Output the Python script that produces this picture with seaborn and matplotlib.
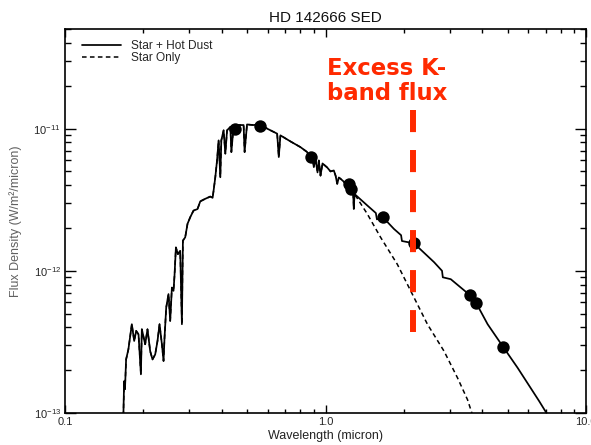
import numpy as np
import pandas as pd
import matplotlib
matplotlib.use("Agg")
import matplotlib.pyplot as plt
from matplotlib.ticker import FixedLocator, FixedFormatter, LogLocator, NullFormatter
import seaborn as sns

# ---- spectrum shared by both models (UV through J band), micron / W m^-2 micron^-1
common_wave = [0.1675, 0.1686, 0.1699, 0.1716, 0.1751, 0.1805, 0.1843, 0.1876, 0.1915,
               0.1956, 0.1972, 0.2031, 0.2073, 0.2123, 0.2167, 0.2219, 0.2265, 0.2306,
               0.2355, 0.2389, 0.2410, 0.2446, 0.2496, 0.2534, 0.2572, 0.2609, 0.2632,
               0.2665, 0.2712, 0.2768, 0.2810, 0.2835, 0.2893, 0.2953, 0.3024, 0.3113,
               0.3226, 0.3305, 0.3455, 0.3612, 0.3686, 0.3719, 0.3775, 0.3833, 0.3887,
               0.3946, 0.3981, 0.4063, 0.4125, 0.4188, 0.4312, 0.4351, 0.4440, 0.4708,
               0.4848, 0.4891, 0.4996, 0.5299, 0.5623, 0.5970, 0.6522, 0.6616, 0.6713,
               0.7335, 0.8015, 0.8504, 0.8757, 0.8889, 0.9017, 0.9153, 0.9316, 0.9424,
               0.9567, 0.9738, 1.015, 1.045, 1.076, 1.093, 1.109, 1.125, 1.142, 1.173,
               1.212, 1.248, 1.276, 1.284, 1.292]
common_flux = [9.5e-14, 1.67e-13, 1.47e-13, 2.38e-13, 2.80e-13, 4.21e-13, 3.21e-13, 3.78e-13,
               3.57e-13, 1.87e-13, 3.88e-13, 3.04e-13, 3.88e-13, 2.72e-13, 2.38e-13, 2.58e-13,
               3.21e-13, 4.21e-13, 3.04e-13, 2.32e-13, 3.38e-13, 5.51e-13, 6.86e-13, 4.44e-13,
               7.62e-13, 7.23e-13, 9.22e-13, 1.46e-12, 1.31e-12, 1.38e-12, 4.21e-13, 1.63e-12,
               1.72e-12, 2.14e-12, 2.38e-12, 2.65e-12, 2.72e-12, 3.08e-12, 3.21e-12, 3.33e-12,
               3.26e-12, 3.67e-12, 4.55e-12, 5.97e-12, 8.27e-12, 4.55e-12, 8.27e-12, 9.73e-12,
               6.67e-12, 9.73e-12, 1.03e-11, 6.84e-12, 1.06e-11, 1.06e-11, 1.06e-11, 6.84e-12,
               1.07e-11, 1.06e-11, 1.08e-11, 1.00e-11, 9.22e-12, 6.31e-12, 8.97e-12, 8.13e-12,
               7.41e-12, 6.84e-12, 5.97e-12, 6.48e-12, 5.36e-12, 6.17e-12, 4.92e-12, 5.97e-12,
               4.67e-12, 5.69e-12, 5.33e-12, 5.00e-12, 5.08e-12, 4.67e-12, 4.09e-12, 4.53e-12,
               4.44e-12, 4.25e-12, 3.98e-12, 3.79e-12, 3.61e-12, 2.72e-12, 3.47e-12]

# ---- star + hot dust beyond J band
dust_wave = [1.447, 1.560, 1.575, 1.661, 1.831, 1.95, 1.965, 2.186, 2.610, 2.80, 2.82,
             3.025, 3.58, 3.78, 4.19, 4.81, 5.46, 6.61, 7.30]
dust_flux = [2.88e-12, 2.55e-12, 2.30e-12, 2.38e-12, 1.97e-12, 1.78e-12, 1.62e-12,
             1.56e-12, 1.15e-12, 1.00e-12, 0.90e-12, 8.73e-13, 6.75e-13, 5.97e-13,
             4.21e-13, 2.91e-13, 2.08e-13, 1.21e-13, 9.0e-14]

# ---- photosphere only beyond J band
star_wave = [1.447, 1.627, 1.887, 2.186, 2.461, 2.851, 3.209, 3.508, 3.70]
star_flux = [2.51e-12, 1.72e-12, 1.11e-12, 6.49e-13, 4.21e-13, 2.72e-13, 1.77e-13,
             1.24e-13, 9.2e-14]

# ---- photometry
phot_wave = [0.451, 0.559, 0.88, 1.229, 1.255, 1.661, 2.19, 3.58, 3.78, 4.81]
phot_flux = [1.00e-11, 1.04e-11, 6.3e-12, 4.09e-12, 3.77e-12, 2.38e-12, 1.56e-12,
             6.74e-13, 5.97e-13, 2.91e-13]

# ---- K-band excess marker
kband_wave = 2.17
kband_flux_span = [1.35e-11, 3.7e-13]

series_labels = ["Star + Hot Dust", "Star Only"]
title_text = "HD 142666 SED"
x_label = "Wavelength (micron)"
y_label = "Flux Density (W/m\u00b2/micron)"
note_text = "Excess K-\nband flux"
xtick_values = [0.1, 1.0, 10.0]
xtick_labels = ["0.1", "1.0", "10.0"]
ytick_values = [1e-13, 1e-12, 1e-11]
ytick_labels = [r"$\mathregular{10^{-13}}$", r"$\mathregular{10^{-12}}$", r"$\mathregular{10^{-11}}$"]

sns.set_style("ticks")
plt.rcParams["font.family"] = ["Liberation Sans", "DejaVu Sans"]
plt.rcParams["mathtext.default"] = "regular"

fig = plt.figure(figsize=(5.91, 4.45), dpi=100)
ax = fig.add_axes([0.110, 0.072, 0.8816, 0.8622])

with_dust = pd.DataFrame({"wave": common_wave + dust_wave, "flux": common_flux + dust_flux})
star_only = pd.DataFrame({"wave": common_wave + star_wave, "flux": common_flux + star_flux})

sns.lineplot(data=with_dust, x="wave", y="flux", ax=ax, color="black", lw=1.25,
             sort=False, estimator=None, label=series_labels[0])
sns.lineplot(data=star_only, x="wave", y="flux", ax=ax, color="black", lw=1.1,
             sort=False, estimator=None, label=series_labels[1])
ax.lines[-1].set_dashes([3.0, 2.2])

sns.scatterplot(x=phot_wave, y=phot_flux, ax=ax, color="black", s=80,
                edgecolor="black", linewidth=0, zorder=4, legend=False)

ax.plot([kband_wave, kband_wave], kband_flux_span, color="#FF2A00", lw=4.3,
        dashes=[3.7, 3.0], solid_capstyle="butt", zorder=5)

ax.set_xscale("log")
ax.set_yscale("log")
ax.set_xlim(0.1, 10.0)
ax.set_ylim(1e-13, 5e-11)

ax.xaxis.set_major_locator(FixedLocator(xtick_values))
ax.xaxis.set_major_formatter(FixedFormatter(xtick_labels))
ax.xaxis.set_minor_locator(LogLocator(base=10, subs=np.arange(2, 10)))
ax.xaxis.set_minor_formatter(NullFormatter())
ax.yaxis.set_major_locator(FixedLocator(ytick_values))
ax.yaxis.set_major_formatter(FixedFormatter(ytick_labels))
ax.yaxis.set_minor_locator(LogLocator(base=10, subs=np.arange(2, 10)))
ax.yaxis.set_minor_formatter(NullFormatter())

ax.tick_params(axis="both", which="both", direction="in", top=True, right=True,
               width=1.0, color="black", labelsize=8, pad=3)
ax.tick_params(axis="x", which="major", length=5.8)
ax.tick_params(axis="x", which="minor", length=2.9)
ax.tick_params(axis="y", which="major", length=7.9)
ax.tick_params(axis="y", which="minor", length=4.1)
for sp in ax.spines.values():
    sp.set_linewidth(1.2)
    sp.set_color("black")

ax.set_title(title_text, fontsize=11, pad=5, color="#111111")
ax.set_xlabel(x_label, fontsize=9, labelpad=2, color="#222222")
ax.set_ylabel(y_label, fontsize=9, labelpad=8, color="#606060")

ax.legend(loc="upper left", bbox_to_anchor=(0.0326, 0.972), frameon=False,
          fontsize=8.6, handlelength=3.3, handletextpad=0.8, labelspacing=0.0,
          borderpad=0, borderaxespad=0)

ax.text(0.503, 0.928, note_text, transform=ax.transAxes, ha="left", va="top",
        color="#FF2A00", fontsize=16.4, fontweight="bold", family="DejaVu Sans",
        linespacing=1.1)

fig.savefig("out.png", dpi=100)
